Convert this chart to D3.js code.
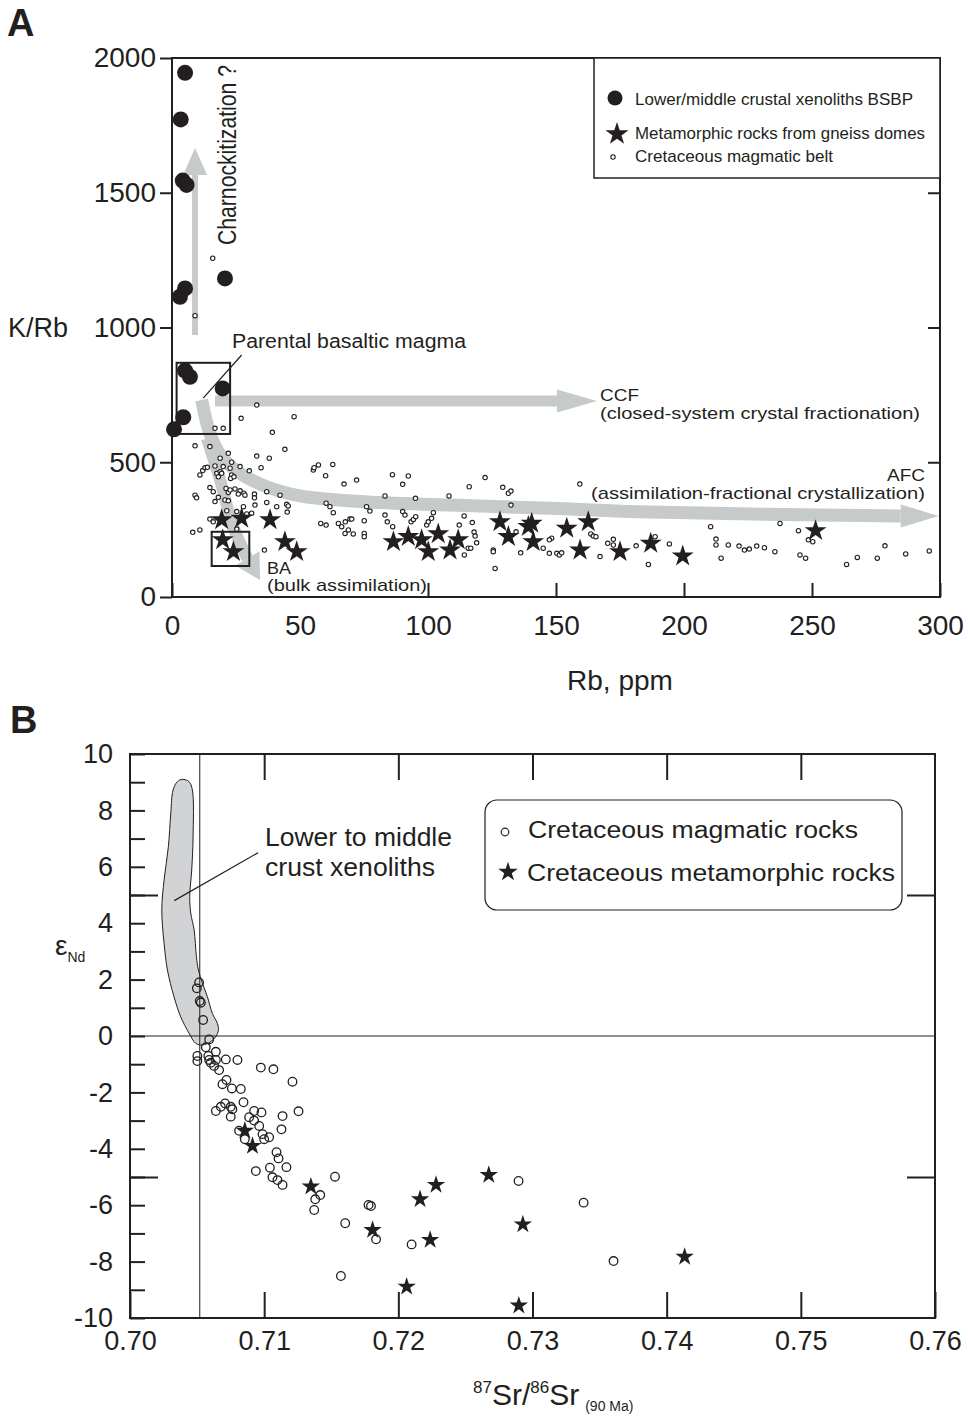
<!DOCTYPE html>
<html>
<head>
<meta charset="utf-8">
<script src="https://cdn.jsdelivr.net/npm/d3@7"></script>
<style>
  body { margin: 0; background: #fff; }
  text { font-family: "Liberation Sans", Arial, sans-serif; fill: #231f20; }
</style>
</head>
<body>
<svg id="chart" width="968" height="1426"></svg>
<script>
// ---- Panel A data: [Rb ppm, K/Rb] ----
const xenolithsA = [
  [5.1, 1945], [3.4, 1772], [4.2, 1545], [5.7, 1529], [20.7, 1182], [5.1, 1145], [3.1, 1114],
  [5.1, 840], [7, 817], [19.8, 774], [4.4, 667], [0.8, 622]
];
const metamorphicA = [
  [19.4, 286], [27.2, 292], [38.3, 286], [19.8, 212], [24, 168], [44.1, 205], [48.7, 168],
  [86.5, 205], [92.3, 224], [97.5, 212], [100.1, 168], [104, 234], [108.6, 174], [111.8, 212],
  [128.1, 279], [131.4, 224], [139.2, 261], [140.5, 273], [141.1, 205], [154.2, 255],
  [162.6, 279], [159.4, 174], [175, 168], [187, 199], [199.5, 152], [251.4, 246]
];
const magmaticA = [
  [15.9, 1257], [9.0, 1044],
  [33.1, 712], [27.0, 663], [47.7, 669], [16.8, 626], [20.0, 626], [39.2, 611], [9.0, 561],
  [14.8, 558], [44.1, 548], [33.1, 523], [38.0, 515], [22.0, 533], [18.8, 515], [10.9, 453],
  [12.0, 469], [12.9, 480], [13.8, 481], [16.8, 486], [17.5, 459], [18.8, 465], [19.4, 459],
  [20.0, 484], [22.7, 478], [23.3, 453], [22.9, 440], [24.2, 446], [30.2, 468], [34.8, 480],
  [14.8, 406], [16.1, 391], [9.0, 378], [9.6, 368], [18.1, 370], [16.8, 354], [21.1, 403],
  [22.0, 388], [22.7, 397], [24.6, 401], [26.6, 394], [25.9, 382], [28.1, 385], [28.5, 378],
  [32.2, 382], [32.2, 368], [20.7, 360], [22.0, 357], [21.4, 320], [27.9, 335], [25.3, 317],
  [29.2, 308], [31.1, 311], [32.4, 341], [37.0, 351], [37.0, 391], [40.9, 335], [42.2, 378],
  [44.8, 344], [45.4, 338], [45.0, 315], [14.8, 289], [16.1, 279], [8.1, 240], [10.9, 249],
  [25.3, 252], [36.1, 174], [23.3, 500], [26.6, 484], [18.1, 446], [55.2, 471], [55.5, 480],
  [57.2, 490], [62.8, 492], [60.0, 450], [67.2, 419], [72.1, 434], [60.2, 348], [61.7, 335],
  [63.0, 313], [58.1, 273], [60.2, 267], [65.0, 273], [66.3, 261], [67.6, 236], [68.9, 249],
  [69.5, 289], [70.2, 289], [70.8, 234], [67.7, 279],
  [86.1, 454], [92.3, 449], [90.1, 418], [83.2, 375], [95.1, 366], [108.2, 375], [116.1, 409],
  [122.3, 443], [129.2, 407], [131.4, 385], [132.4, 393], [159.3, 419], [75.1, 283], [75.1, 236],
  [75.1, 224], [83.2, 304], [84.1, 279], [86.2, 261], [90.1, 317], [91.0, 304], [93.4, 279],
  [94.3, 288], [95.2, 298], [99.5, 267], [100.1, 279], [101.4, 292], [102.1, 313], [114.1, 301],
  [112.2, 267], [117.3, 276], [118.0, 241], [118.4, 226], [119.0, 201], [115.7, 181], [116.7, 181],
  [114.2, 156], [125.5, 174], [125.5, 168], [126.2, 106], [132.4, 341], [134.4, 242], [136.2, 164],
  [145.0, 181], [147.4, 162], [148.3, 218], [147.4, 212], [150.3, 162], [151.3, 156], [152.2, 164],
  [163.6, 234], [164.6, 226], [165.6, 224], [167.2, 150], [170.2, 199], [172.4, 214], [172.4, 193],
  [181.3, 190], [186.1, 121], [76.0, 335], [77.3, 319],
  [210.4, 261], [212.5, 215], [212.5, 193], [214.5, 144], [217.3, 193], [221.5, 189], [223.6, 174],
  [225.5, 178], [228.4, 189], [231.4, 183], [235.5, 168], [237.5, 273], [244.7, 246], [245.3, 156],
  [247.5, 144], [248.6, 212], [250.3, 205], [263.5, 121], [267.7, 147], [275.5, 144], [278.5, 190],
  [286.6, 160], [295.8, 171], [194.3, 197], [188.7, 224]
];
const xTicksA = [0, 50, 100, 150, 200, 250, 300];
const yTicksA = [0, 500, 1000, 1500, 2000];

// trend arrows of panel A, in data units (last point = arrow tip)
const afcPath = [[11.6, 731], [14.8, 607], [19.4, 521], [26.6, 459], [37, 409], [50, 375], [73.4, 354],
  [108.6, 341], [147.7, 329], [186.7, 315], [283.6, 301], [299.5, 301]];
const ccfPath = [[16.8, 727], [150.3, 727], [166, 727]];
const baPath = [[13.6, 589], [18.8, 434], [23.9, 261], [29.4, 144], [34.4, 63]];
const charnPath = [[9, 972], [9, 1566], [9, 1666]];
const parentalBox = [[1.8, 869], [22.7, 605]];
const baBox = [[15.5, 242], [30.2, 115]];

// ---- Panel B data: [87Sr/86Sr (90 Ma), eNd] ----
const magmaticB = [
  [0.70515, 1.90], [0.70498, 1.69], [0.70520, 1.24], [0.70528, 1.18], [0.70545, 0.57], [0.70590, -0.12],
  [0.70565, -0.40], [0.70640, -0.56], [0.70502, -0.71], [0.70502, -0.89], [0.70584, -0.71], [0.70590, -0.85],
  [0.70602, -0.95], [0.70627, -1.06], [0.70640, -0.85], [0.70664, -1.21], [0.70714, -0.83], [0.70801, -0.85],
  [0.70975, -1.12], [0.71069, -1.18], [0.71211, -1.62], [0.70719, -1.56], [0.70689, -1.71], [0.70759, -1.86],
  [0.70826, -1.88], [0.70846, -2.35], [0.70709, -2.39], [0.70677, -2.51], [0.70640, -2.66], [0.70751, -2.51],
  [0.70751, -2.86], [0.70763, -2.60], [0.70888, -2.88], [0.70925, -2.66], [0.70980, -2.71], [0.70925, -3.00],
  [0.70963, -3.19], [0.70813, -3.36], [0.70856, -3.66], [0.70988, -3.48], [0.71000, -3.66], [0.71037, -3.59],
  [0.71137, -2.84], [0.71129, -3.31], [0.71256, -2.67], [0.71092, -4.12], [0.71107, -4.34], [0.71043, -4.67],
  [0.71166, -4.65], [0.70938, -4.79], [0.71062, -5.01], [0.71099, -5.11], [0.71137, -5.28], [0.71418, -5.64],
  [0.71381, -5.79], [0.71373, -6.17], [0.71528, -4.99], [0.71604, -6.64], [0.71778, -5.99], [0.71796, -6.03],
  [0.71834, -7.21], [0.71572, -8.51], [0.72099, -7.39], [0.72896, -5.14], [0.73381, -5.91], [0.73604, -7.98]
];
const metamorphicB = [
  [0.70856, -3.36], [0.70913, -3.90], [0.71348, -5.34], [0.71808, -6.88], [0.72162, -5.79], [0.72281, -5.28],
  [0.72237, -7.23], [0.72062, -8.89], [0.72674, -4.93], [0.72928, -6.68], [0.72898, -9.56], [0.74134, -7.83]
];
const xenolithFieldB = [
  [0.70390, 9.10], [0.70440, 9.02], [0.70465, 8.72], [0.70470, 7.07], [0.70460, 5.89], [0.70445, 4.94],
  [0.70453, 4.35], [0.70478, 3.76], [0.70495, 2.81], [0.70510, 2.34], [0.70540, 1.87], [0.70577, 1.39],
  [0.70614, 0.80], [0.70651, 0.45], [0.70659, 0.21], [0.70640, -0.02], [0.70602, -0.20], [0.70540, -0.32],
  [0.70490, -0.26], [0.70440, 0.10], [0.70378, 0.68], [0.70328, 1.39], [0.70279, 2.34], [0.70254, 3.29],
  [0.70237, 4.47], [0.70254, 5.53], [0.70286, 6.71], [0.70304, 7.90], [0.70321, 8.72], [0.70353, 9.02]
];
const bulkEarthSr = 0.7052;
const xTicksB = [0.70, 0.71, 0.72, 0.73, 0.74, 0.75, 0.76];
const yTicksB = [10, 8, 6, 4, 2, 0, -2, -4, -6, -8, -10];

const ink = "#231f20";
const arrowGray = "#c6cacb";
const svg = d3.select("#chart");

function styleAxis(g, width, fontSize) {
  g.select(".domain").remove();
  g.selectAll(".tick line").attr("stroke", ink).attr("stroke-width", width);
  g.selectAll(".tick text").attr("font-size", fontSize).attr("fill", ink)
    .attr("font-family", "'Liberation Sans', Arial, sans-serif");
}

function drawArrow(g, pts, w, headLen, headW, curve) {
  const tip = pts[pts.length - 1];
  const prev = pts[pts.length - 2];
  const dx = tip[0] - prev[0], dy = tip[1] - prev[1];
  const L = Math.hypot(dx, dy);
  const ux = dx / L, uy = dy / L;
  const base = [tip[0] - ux * headLen, tip[1] - uy * headLen];
  const shaft = pts.slice(0, -2).concat([base]);
  g.append("path")
    .attr("d", d3.line().curve(curve || d3.curveLinear)(shaft))
    .attr("fill", "none")
    .attr("stroke", arrowGray)
    .attr("stroke-width", w);
  const nx = -uy, ny = ux;
  g.append("path")
    .attr("d", d3.line()([tip,
      [base[0] + nx * headW / 2, base[1] + ny * headW / 2],
      [base[0] - nx * headW / 2, base[1] - ny * headW / 2]]) + "Z")
    .attr("fill", arrowGray);
}

// ================= Panel A =================
const xA = d3.scaleLinear().domain([0, 300]).range([172, 940]);
const yA = d3.scaleLinear().domain([0, 2000]).range([597, 58]);
const gA = svg.append("g");
const toA = d => [xA(d[0]), yA(d[1])];

svg.append("text").attr("x", 7).attr("y", 36).attr("font-size", 38)
  .attr("font-weight", "bold").text("A");

// arrows
drawArrow(gA, afcPath.map(toA), 13, 38, 23, d3.curveCatmullRom);
drawArrow(gA, ccfPath.map(toA), 11, 40, 23);
drawArrow(gA, baPath.map(toA), 12, 25, 28, d3.curveCatmullRom);
drawArrow(gA, charnPath.map(toA), 6, 27, 24);

// boxes
[parentalBox, baBox].forEach(b => {
  gA.append("rect")
    .attr("x", xA(b[0][0])).attr("y", yA(b[0][1]))
    .attr("width", xA(b[1][0]) - xA(b[0][0]))
    .attr("height", yA(b[1][1]) - yA(b[0][1]))
    .attr("fill", "none").attr("stroke", ink).attr("stroke-width", 2);
});
gA.append("line")
  .attr("x1", xA(27.2)).attr("y1", yA(898))
  .attr("x2", xA(12.2)).attr("y2", yA(738))
  .attr("stroke", ink).attr("stroke-width", 1.2);

// points
gA.append("g").selectAll("circle").data(magmaticA).join("circle")
  .attr("cx", d => xA(d[0])).attr("cy", d => yA(d[1])).attr("r", 2.2)
  .attr("fill", "#fff").attr("stroke", ink).attr("stroke-width", 1.1);
gA.append("g").selectAll("path").data(metamorphicA).join("path")
  .attr("transform", d => `translate(${xA(d[0])},${yA(d[1])})`)
  .attr("d", d3.symbol(d3.symbolStar, 150))
  .attr("fill", ink);
gA.append("g").selectAll("circle").data(xenolithsA).join("circle")
  .attr("cx", d => xA(d[0])).attr("cy", d => yA(d[1])).attr("r", 8)
  .attr("fill", ink);

// frame and axes
gA.append("rect").attr("x", 172).attr("y", 58).attr("width", 768).attr("height", 539)
  .attr("fill", "none").attr("stroke", ink).attr("stroke-width", 2);
gA.append("g").attr("transform", "translate(0,597)")
  .call(d3.axisBottom(xA).tickValues(xTicksA).tickSizeInner(-14).tickSizeOuter(0)
    .tickPadding(18).tickFormat(d3.format("d")))
  .call(g => styleAxis(g, 2, 28))
  // the 50 tick sits under the BA caption in the original and is not drawn
  .call(g => g.selectAll(".tick").filter(d => d === 50).select("line").remove());
gA.append("g").attr("transform", "translate(172,0)")
  .call(d3.axisLeft(yA).tickValues(yTicksA).tickSize(12).tickPadding(4).tickFormat(d3.format("d")))
  .call(g => styleAxis(g, 2, 28));
gA.append("g").attr("transform", "translate(940,0)")
  .call(d3.axisRight(yA).tickValues([500, 1000, 1500]).tickSize(-12).tickFormat(""))
  .call(g => styleAxis(g, 2, 28));

// annotations
gA.append("text").attr("x", 232).attr("y", 348).attr("font-size", 20)
  .attr("textLength", 234).attr("lengthAdjust", "spacingAndGlyphs").text("Parental basaltic magma");
gA.append("text").attr("transform", "translate(236,245) rotate(-90) scale(1,1.2)")
  .attr("font-size", 21).attr("textLength", 180).attr("lengthAdjust", "spacingAndGlyphs")
  .text("Charnockitization ?");
gA.append("text").attr("x", 600).attr("y", 401).attr("font-size", 17)
  .attr("textLength", 39).attr("lengthAdjust", "spacingAndGlyphs").text("CCF");
gA.append("text").attr("x", 600).attr("y", 419).attr("font-size", 17)
  .attr("textLength", 320).attr("lengthAdjust", "spacingAndGlyphs")
  .text("(closed-system crystal fractionation)");
gA.append("text").attr("x", 887).attr("y", 481).attr("font-size", 17)
  .attr("textLength", 38).attr("lengthAdjust", "spacingAndGlyphs").text("AFC");
gA.append("text").attr("x", 591).attr("y", 499).attr("font-size", 17)
  .attr("textLength", 334).attr("lengthAdjust", "spacingAndGlyphs")
  .text("(assimilation-fractional crystallization)");
gA.append("text").attr("x", 267).attr("y", 574).attr("font-size", 17)
  .attr("textLength", 24).attr("lengthAdjust", "spacingAndGlyphs").text("BA");
gA.append("text").attr("x", 267).attr("y", 591).attr("font-size", 17)
  .attr("textLength", 160).attr("lengthAdjust", "spacingAndGlyphs").text("(bulk assimilation)");

// axis titles
svg.append("text").attr("x", 8).attr("y", 337).attr("font-size", 27).text("K/Rb");
svg.append("text").attr("x", 620).attr("y", 690).attr("font-size", 28)
  .attr("text-anchor", "middle").text("Rb, ppm");

// legend A
const legA = svg.append("g");
legA.append("rect").attr("x", 594).attr("y", 58).attr("width", 346).attr("height", 120)
  .attr("fill", "#fff").attr("stroke", ink).attr("stroke-width", 1.5);
legA.append("circle").attr("cx", 615).attr("cy", 98).attr("r", 7.5).attr("fill", ink);
legA.append("path").attr("transform", "translate(617,134)")
  .attr("d", d3.symbol(d3.symbolStar, 165)).attr("fill", ink);
legA.append("circle").attr("cx", 613).attr("cy", 157).attr("r", 2.2)
  .attr("fill", "#fff").attr("stroke", ink).attr("stroke-width", 1.1);
[["Lower/middle crustal xenoliths BSBP", 105, 278],
 ["Metamorphic rocks from gneiss domes", 139, 290],
 ["Cretaceous magmatic belt", 162, 198]].forEach(([t, y, w]) => {
  legA.append("text").attr("x", 635).attr("y", y).attr("font-size", 17)
    .attr("textLength", w).attr("lengthAdjust", "spacingAndGlyphs").text(t);
});

// ================= Panel B =================
const xB = d3.scaleLinear().domain([0.70, 0.76]).range([130, 935]);
const yB = d3.scaleLinear().domain([-10, 10]).range([1318, 754]);
const gB = svg.append("g");

svg.append("text").attr("x", 10).attr("y", 733).attr("font-size", 38)
  .attr("font-weight", "bold").text("B");

gB.append("path")
  .attr("d", d3.line().x(d => xB(d[0])).y(d => yB(d[1])).curve(d3.curveCatmullRomClosed)(xenolithFieldB))
  .attr("fill", "#d1d3d4").attr("stroke", ink).attr("stroke-width", 1);

gB.append("line").attr("x1", xB(bulkEarthSr)).attr("x2", xB(bulkEarthSr))
  .attr("y1", 754).attr("y2", 1318).attr("stroke", ink).attr("stroke-width", 1);
gB.append("line").attr("x1", 130).attr("x2", 935)
  .attr("y1", yB(0)).attr("y2", yB(0)).attr("stroke", ink).attr("stroke-width", 1);

// leader line for the field label
gB.append("line").attr("x1", xB(0.70330)).attr("y1", yB(4.8))
  .attr("x2", xB(0.70955)).attr("y2", yB(6.5)).attr("stroke", ink).attr("stroke-width", 1.2);
gB.append("text").attr("x", 265).attr("y", 846).attr("font-size", 26)
  .attr("textLength", 187).attr("lengthAdjust", "spacingAndGlyphs").text("Lower to middle");
gB.append("text").attr("x", 265).attr("y", 876).attr("font-size", 26)
  .attr("textLength", 170).attr("lengthAdjust", "spacingAndGlyphs").text("crust xenoliths");

gB.append("g").selectAll("circle").data(magmaticB).join("circle")
  .attr("cx", d => xB(d[0])).attr("cy", d => yB(d[1])).attr("r", 4.3)
  .attr("fill", "#fff").attr("fill-opacity", 0).attr("stroke", ink).attr("stroke-width", 1.3);
gB.append("g").selectAll("path").data(metamorphicB).join("path")
  .attr("transform", d => `translate(${xB(d[0])},${yB(d[1])})`)
  .attr("d", d3.symbol(d3.symbolStar, 105))
  .attr("fill", ink);

// frame and axes
gB.append("rect").attr("x", 130).attr("y", 754).attr("width", 805).attr("height", 564)
  .attr("fill", "none").attr("stroke", ink).attr("stroke-width", 2);
gB.append("g").attr("transform", "translate(0,1318)")
  .call(d3.axisBottom(xB).tickValues(xTicksB).tickSizeInner(-26).tickSizeOuter(0)
    .tickPadding(13).tickFormat(d3.format(".2f")))
  .call(g => styleAxis(g, 2, 27));
gB.append("g").attr("transform", "translate(0,754)")
  .call(d3.axisTop(xB).tickValues(xTicksB.slice(1, -1)).tickSize(-26).tickFormat(""))
  .call(g => styleAxis(g, 2, 27));
gB.append("g").attr("transform", "translate(130,0)")
  .call(d3.axisLeft(yB).tickValues(d3.range(-10, 11)).tickSize(-15).tickPadding(17)
    .tickFormat(d => yTicksB.includes(d) ? String(d) : ""))
  .call(g => styleAxis(g, 2, 27));
gB.append("g").attr("transform", "translate(130,0)")
  .call(d3.axisLeft(yB).tickValues([-5, 5]).tickSize(-28).tickFormat(""))
  .call(g => styleAxis(g, 2, 27));
gB.append("g").attr("transform", "translate(935,0)")
  .call(d3.axisRight(yB).tickValues([-5, 5]).tickSize(-28).tickFormat(""))
  .call(g => styleAxis(g, 2, 27));

// axis titles
const eps = svg.append("text").attr("x", 55).attr("y", 955).attr("font-size", 28);
eps.append("tspan").text("\u03b5");
eps.append("tspan").attr("font-size", 14).attr("dy", 7).text("Nd");

const srT = svg.append("text").attr("x", 473).attr("y", 1405).attr("font-size", 30);
srT.append("tspan").attr("font-size", 17).attr("dy", -12).text("87");
srT.append("tspan").attr("dy", 12).text("Sr/");
srT.append("tspan").attr("font-size", 17).attr("dy", -12).text("86");
srT.append("tspan").attr("dy", 12).text("Sr");
srT.append("tspan").attr("font-size", 14).attr("dy", 6).attr("dx", 6).text("(90 Ma)");

// legend B
const legB = svg.append("g");
legB.append("rect").attr("x", 485).attr("y", 800).attr("width", 417).attr("height", 110)
  .attr("rx", 12).attr("fill", "#fff").attr("stroke", ink).attr("stroke-width", 1.2);
legB.append("circle").attr("cx", 505).attr("cy", 832).attr("r", 3.8)
  .attr("fill", "#fff").attr("stroke", ink).attr("stroke-width", 1.2);
legB.append("path").attr("transform", "translate(508,872)")
  .attr("d", d3.symbol(d3.symbolStar, 120)).attr("fill", ink);
legB.append("text").attr("x", 528).attr("y", 838).attr("font-size", 23)
  .attr("textLength", 330).attr("lengthAdjust", "spacingAndGlyphs").text("Cretaceous magmatic rocks");
legB.append("text").attr("x", 527).attr("y", 881).attr("font-size", 23)
  .attr("textLength", 368).attr("lengthAdjust", "spacingAndGlyphs").text("Cretaceous metamorphic rocks");
</script>
</body>
</html>
